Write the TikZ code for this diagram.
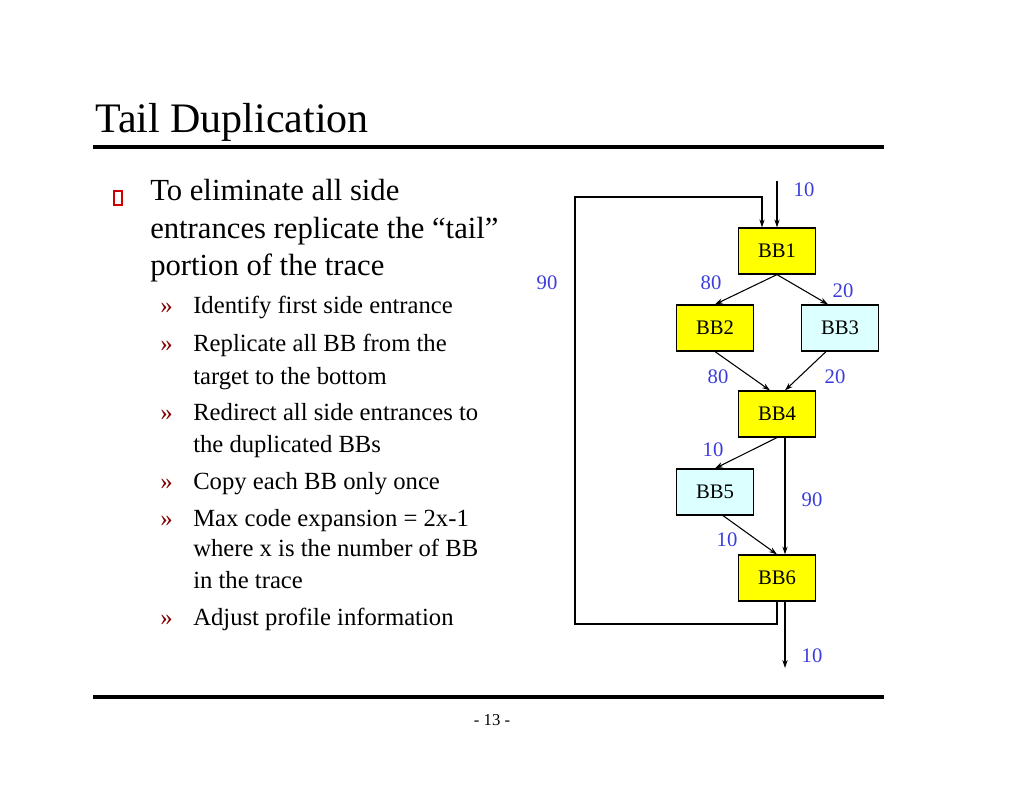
\documentclass[tikz,border=0pt]{standalone}
\usepackage{fontspec}
\setmainfont{Liberation Serif}
\usetikzlibrary{arrows.meta}
\definecolor{bbyellow}{RGB}{255,255,0}
\definecolor{bbcyan}{RGB}{220,255,255}
\definecolor{freq}{RGB}{60,60,220}
\tikzset{
  bbox/.style={draw=black, line width=0.9pt, minimum width=58pt, minimum height=34.5pt, inner sep=0pt, font=\fontsize{15.5}{15.5}\selectfont},
  hot/.style={bbox, fill=bbyellow},
  cold/.style={bbox, fill=bbcyan},
  cnt/.style={text=freq, font=\fontsize{15.5}{15.5}\selectfont, inner sep=0pt},
  edge/.style={-{Stealth[length=6pt,width=4pt]}, black, line width=0.8pt},
  mainline/.style={anchor=base west, inner sep=0pt, font=\fontsize{23}{23}\selectfont},
  subline/.style={anchor=base west, inner sep=0pt, font=\fontsize{18.5}{18.5}\selectfont}
}
\begin{document}
\begin{tikzpicture}[x=0.75pt,y=-0.75pt]
			\useasboundingbox (0,0) rectangle (1024,791);
			
			% title and rules
			\node[anchor=base west, inner sep=0pt, font=\fontsize{31.5}{31.5}\selectfont] (title) at (95,133) {Tail Duplication};
			\draw[line width=3pt] (93,147) -- (884,147);
			\draw[line width=3pt] (93,697) -- (884,697);
			\node[font=\fontsize{12.5}{12.5}\selectfont] (page) at (492,720) {- 13 -};
			
			% bullets
			\draw[red!80!black, line width=0.8pt] (114,191) rectangle (122,205);
			\node[mainline] (t1) at (150,201) {To eliminate all side};
			\node[mainline] (t2) at (150,239) {entrances replicate the “tail”};
			\node[mainline] (t3) at (150,276) {portion of the trace};
			\foreach \y in {314,352,421,489,526,625}
				\node[subline, text=red!50!black] at (160,\y) {»};
			\node[subline] (s1) at (193,314) {Identify first side entrance};
			\node[subline] (s2) at (193,352) {Replicate all BB from the};
			\node[subline] (s3) at (193,384) {target to the bottom};
			\node[subline] (s4) at (193,421) {Redirect all side entrances to};
			\node[subline] (s5) at (193,452) {the duplicated BBs};
			\node[subline] (s6) at (193,489) {Copy each BB only once};
			\node[subline] (s7) at (193,526) {Max code expansion = 2x-1};
			\node[subline] (s8) at (193,556) {where x is the number of BB};
			\node[subline] (s9) at (193,588) {in the trace};
			\node[subline] (s10) at (193,625) {Adjust profile information};
			
			% blocks
			\node[hot] (bb1) at (777,251) {BB1};
			\node[hot] (bb2) at (715,328) {BB2};
			\node[cold] (bb3) at (840,328) {BB3};
			\node[hot] (bb4) at (777,414) {BB4};
			\node[cold] (bb5) at (715,492) {BB5};
			\node[hot] (bb6) at (777,578) {BB6};
			\coordinate (entry) at (777,181);
			\coordinate (exit) at (785,668);
			
			% edges
			\draw[edge] (entry) -- (bb1.north);
			\draw[edge] (bb1.south) -- (bb2.north);
			\draw[edge] (bb1.south) -- (bb3.north -| 828,0);
			\draw[edge] (bb2.south) -- (bb4.north -| 770,0);
			\draw[edge] (bb3.south -| 826,0) -- (bb4.north -| 785,0);
			\draw[edge] (bb4.south) -- (bb5.north);
			\draw[edge] (bb4.south -| 785,0) -- (bb6.north -| 785,0);
			\draw[edge] (bb5.south -| 723,0) -- (bb6.north);
			\draw[edge] (bb6.south -| 785,0) -- (exit);
			\draw[edge] (bb6.south) -- (777,624) -- (575,624) -- (575,197) -- (762,197) -- (bb1.north -| 762,0);
			
			% counts
			\node[cnt] (c1) at (804,190) {10};
			\node[cnt] (c2) at (547,283) {90};
			\node[cnt] (c3) at (711,283) {80};
			\node[cnt] (c4) at (843,291) {20};
			\node[cnt] (c5) at (718,377) {80};
			\node[cnt] (c6) at (835,377) {20};
			\node[cnt] (c7) at (713,450) {10};
			\node[cnt] (c8) at (812,500) {90};
			\node[cnt] (c9) at (727,540) {10};
			\node[cnt] (c10) at (812,656) {10};
			
		\end{tikzpicture}
\end{document}
